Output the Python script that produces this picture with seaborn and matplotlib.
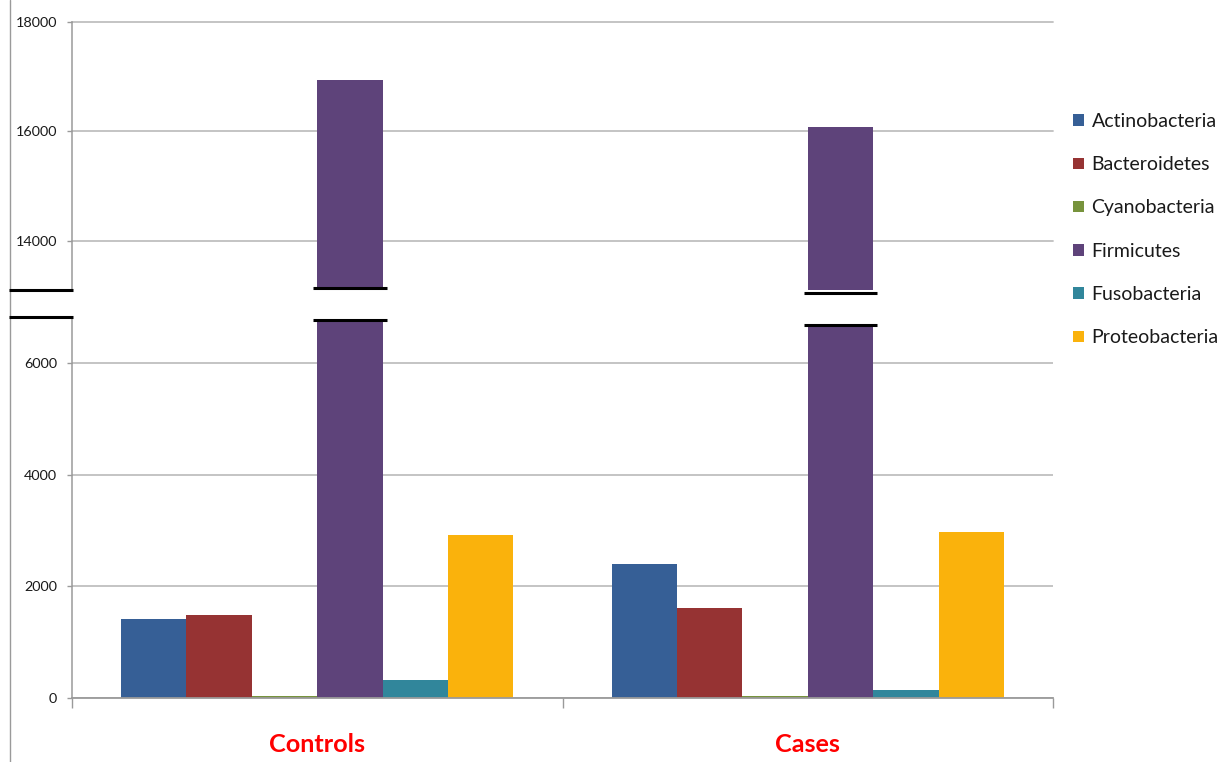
import matplotlib
matplotlib.use("Agg")
import matplotlib.pyplot as plt
import pandas as pd
import seaborn as sns
from matplotlib.lines import Line2D
from matplotlib.patches import Patch, Rectangle
from matplotlib.transforms import blended_transform_factory

# ---- data -------------------------------------------------------------
groups = ["Controls", "Cases"]
phyla = ["Actinobacteria", "Bacteroidetes", "Cyanobacteria",
         "Firmicutes", "Fusobacteria", "Proteobacteria"]
controls = [1420, 1490, 30, 16940, 330, 2930]
cases = [2410, 1615, 30, 16085, 135, 2970]
colors = ["#365F96", "#963333", "#77933C", "#5E437A", "#31869B", "#FAB20C"]
low_ticks = [0, 2000, 4000, 6000]
high_ticks = [14000, 16000, 18000]

df = pd.DataFrame({
    "group": [g for g in groups for _ in phyla],
    "phylum": phyla * len(groups),
    "count": controls + cases,
})

# ---- styling ----------------------------------------------------------
sns.set_style("white")
plt.rcParams["font.family"] = ["Lato", "DejaVu Sans"]

W, H = 1231, 762
fig = plt.figure(figsize=(W / 100, H / 100), dpi=100)


def fx(px):
    return px / W


def fy(py):
    return 1 - py / H


GRID = "#BFBFBF"
AXIS = "#9A9A9A"
TXT = "#1A1A1A"

left, right = 72, 1053
ax_low = fig.add_axes([fx(left), fy(698), fx(right) - fx(left), fy(317) - fy(698)])
ax_up = fig.add_axes([fx(left), fy(290), fx(right) - fx(left), fy(21.7) - fy(290)])

for ax in (ax_low, ax_up):
    sns.barplot(data=df, x="group", y="count", hue="phylum",
                order=groups, hue_order=phyla, palette=colors,
                width=0.8, gap=0, linewidth=0, saturation=1,
                legend=False, ax=ax)
    ax.set_xlim(-0.5, 1.5)
    ax.set_xlabel("")
    ax.set_ylabel("")
    ax.set_axisbelow(True)
    ax.yaxis.grid(True, color=GRID, lw=1.3)
    ax.xaxis.grid(False)
    for s in ("top", "right"):
        ax.spines[s].set_visible(False)
    ax.spines["left"].set_color(AXIS)
    ax.spines["left"].set_linewidth(1.1)
    ax.tick_params(axis="y", length=3.6, width=1, color=AXIS, pad=7,
                   labelsize=10.4, labelcolor=TXT, left=True)

# lower panel
ax_low.set_ylim(0, 6834)
ax_low.set_yticks(low_ticks)
ax_low.spines["bottom"].set_color(AXIS)
ax_low.spines["bottom"].set_linewidth(1.3)
ax_low.set_xticks([0, 1], labels=groups)
ax_low.set_xticks([-0.5, 0.5, 1.5], minor=True)
ax_low.tick_params(axis="x", which="major", length=0, pad=25,
                   labelsize=18.2, labelcolor="#FF0000")
ax_low.tick_params(axis="x", which="minor", length=7.2, width=1, color=AXIS, bottom=True)
for lbl in ax_low.get_xticklabels():
    lbl.set_fontweight("bold")

# upper panel
ax_up.set_ylim(13110, 18000)
ax_up.set_yticks(high_ticks)
ax_up.spines["bottom"].set_visible(False)
ax_up.tick_params(axis="x", bottom=False, labelbottom=False)
for gl in ax_up.get_ygridlines():
    gl.set_clip_on(False)

# ---- axis break marks ---------------------------------------------------
for yy in (290, 317):
    fig.add_artist(Line2D([fx(9), fx(73)], [fy(yy), fy(yy)], color="black",
                          lw=2.2, solid_capstyle="butt", zorder=6))

# break on the tall Firmicutes bars
trans = blended_transform_factory(ax_low.transData, fig.transFigure)
bar_breaks = [(287.7, 320.0), (293.3, 325.3)]
firm_bars = ax_low.containers[phyla.index("Firmicutes")]
for bar, (y_top, y_bot) in zip(firm_bars, bar_breaks):
    x0, w = bar.get_x(), bar.get_width()
    ext = w * 0.06
    fig.add_artist(Rectangle((x0 - ext * 0.3, fy(y_bot)), w + ext * 0.6,
                             fy(y_top) - fy(y_bot), transform=trans,
                             facecolor="white", edgecolor="none", zorder=5))
    for yy in (y_top, y_bot):
        fig.add_artist(Line2D([x0 - ext, x0 + w + ext], [fy(yy), fy(yy)],
                              transform=trans, color="black", lw=2.2,
                              solid_capstyle="butt", zorder=6))

# outer chart border on the left
fig.add_artist(Line2D([fx(9.5), fx(9.5)], [0, 1], color=AXIS, lw=1.0))

# ---- legend -------------------------------------------------------------
handles = [Patch(facecolor=c, edgecolor="none") for c in colors]
fig.legend(handles, phyla, loc="upper left", bbox_to_anchor=(fx(1073), fy(113)),
           frameon=False, fontsize=14, handlelength=0.55, handleheight=0.55,
           handletextpad=0.4, labelspacing=1.35, borderpad=0, borderaxespad=0,
           labelcolor=TXT)

fig.savefig("out.png", dpi=100, facecolor="white")
